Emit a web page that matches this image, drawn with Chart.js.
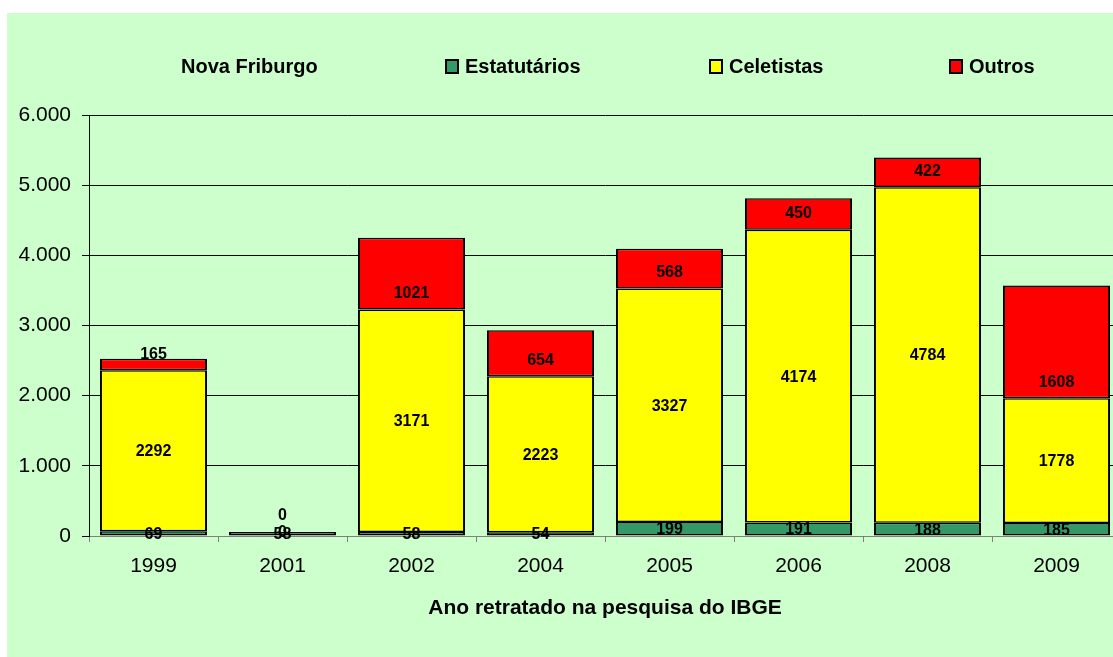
<!DOCTYPE html>
<html>
<head>
<meta charset="utf-8">
<title>Nova Friburgo</title>
<script src="https://cdn.jsdelivr.net/npm/chart.js@4/dist/chart.umd.min.js"></script>
<style>
    html, body { margin: 0; padding: 0; background: #ffffff; overflow: hidden; }
    #wrap { position: relative; width: 1113px; height: 657px; overflow: hidden; }
    canvas { position: absolute; left: 0; top: 0; }
</style>
</head>
<body>
<div id="wrap"><canvas id="chart" width="1130" height="657"></canvas></div>
<script>
// data
const years = ['1999', '2001', '2002', '2004', '2005', '2006', '2008', '2009'];
const estatutarios = [69, 58, 58, 54, 199, 191, 188, 185];
const celetistas = [2292, 0, 3171, 2223, 3327, 4174, 4784, 1778];
const outros = [165, 0, 1021, 654, 568, 450, 422, 1608];
const yTicks = [0, 1000, 2000, 3000, 4000, 5000, 6000];

const FONT = 'Arial, "Liberation Sans", sans-serif';
const BG = '#CCFFCC';

const legendItems = [
    { text: 'Nova Friburgo', color: null, x: 181 },
    { text: 'Estatutários', color: '#339966', x: 445 },
    { text: 'Celetistas', color: '#FFFF00', x: 709 },
    { text: 'Outros', color: '#FF0000', x: 949 }
];

function formatThousands(v) {
    return String(v).replace(/\B(?=(\d{3})+(?!\d))/g, '.');
}

// green panel behind the chart (white margin top / left)
const panelPlugin = {
    id: 'panel',
    beforeDraw(chart) {
        const ctx = chart.ctx;
        ctx.save();
        ctx.fillStyle = '#ffffff';
        ctx.fillRect(0, 0, chart.width, chart.height);
        ctx.fillStyle = BG;
        ctx.fillRect(7, 13, chart.width - 7, chart.height - 13);
        ctx.restore();
    }
};

// legend row drawn by hand so the spacing matches
const legendPlugin = {
    id: 'rowLegend',
    afterDraw(chart) {
        const ctx = chart.ctx;
        const y = 67;
        ctx.save();
        ctx.font = 'bold 20px ' + FONT;
        ctx.textBaseline = 'middle';
        ctx.textAlign = 'left';
        legendItems.forEach(item => {
            let tx = item.x;
            if (item.color) {
                ctx.fillStyle = '#000000';
                ctx.fillRect(item.x, y - 8, 14, 15);
                ctx.fillStyle = item.color;
                ctx.fillRect(item.x + 2, y - 6, 10, 11);
                tx = item.x + 20;
            }
            ctx.fillStyle = '#000000';
            ctx.fillText(item.text, tx, y);
        });
        ctx.restore();
    }
};

// value labels on the bar segments
const valueLabels = {
    id: 'valueLabels',
    afterDatasetsDraw(chart) {
        const ctx = chart.ctx;
        ctx.save();
        ctx.font = 'bold 16px ' + FONT;
        ctx.fillStyle = '#000000';
        ctx.textAlign = 'center';
        ctx.textBaseline = 'middle';
        chart.data.datasets.forEach((ds, di) => {
            const meta = chart.getDatasetMeta(di);
            meta.data.forEach((bar, i) => {
                const p = bar.getProps(['x', 'y', 'base'], true);
                let ly = (p.y + p.base) / 2;
                if (di === 2) ly = p.base - 17;
                ctx.fillText(String(ds.data[i]), p.x, ly + 1);
            });
        });
        ctx.restore();
    }
};

const barStyle = {
    borderColor: '#000000',
    borderWidth: { top: 1.5, bottom: 1.5, left: 2, right: 2 },
    borderSkipped: false,
    barPercentage: 1,
    categoryPercentage: 0.83
};

const ctx = document.getElementById('chart').getContext('2d');
new Chart(ctx, {
    type: 'bar',
    data: {
        labels: years,
        datasets: [
            { label: 'Estatutários', data: estatutarios, backgroundColor: '#339966', ...barStyle },
            { label: 'Celetistas', data: celetistas, backgroundColor: '#FFFF00', ...barStyle },
            { label: 'Outros', data: outros, backgroundColor: '#FF0000', ...barStyle }
        ]
    },
    options: {
        responsive: false,
        animation: false,
        devicePixelRatio: 1,
        layout: { padding: { top: 115, right: 9, bottom: 0, left: 0 } },
        plugins: {
            legend: { display: false },
            title: { display: false },
            tooltip: { enabled: false }
        },
        scales: {
            x: {
                stacked: true,
                offset: true,
                grid: {
                    offset: true,
                    drawOnChartArea: false,
                    drawTicks: true,
                    tickLength: 6,
                    color: '#808080'
                },
                border: { color: '#808080', width: 1 },
                ticks: {
                    color: '#000000',
                    padding: 12,
                    font: { family: FONT, size: 21 }
                },
                title: {
                    display: true,
                    text: 'Ano retratado na pesquisa do IBGE',
                    color: '#000000',
                    font: { family: FONT, size: 21, weight: 'bold', lineHeight: 1.2 },
                    padding: { top: 0, bottom: 36 }
                },
                afterFit(scale) { scale.height = 121; }
            },
            y: {
                stacked: true,
                min: 0,
                max: 6000,
                afterBuildTicks(scale) {
                    scale.ticks = yTicks.map(v => ({ value: v }));
                },
                grid: {
                    color: '#000000',
                    lineWidth: 1,
                    drawTicks: true,
                    tickLength: 7
                },
                border: { color: '#000000', width: 1 },
                ticks: {
                    color: '#000000',
                    padding: 11,
                    font: { family: FONT, size: 21 },
                    callback: v => formatThousands(v)
                },
                afterFit(scale) { scale.width = 89; }
            }
        }
    },
    plugins: [panelPlugin, valueLabels, legendPlugin]
});
</script>
</body>
</html>
